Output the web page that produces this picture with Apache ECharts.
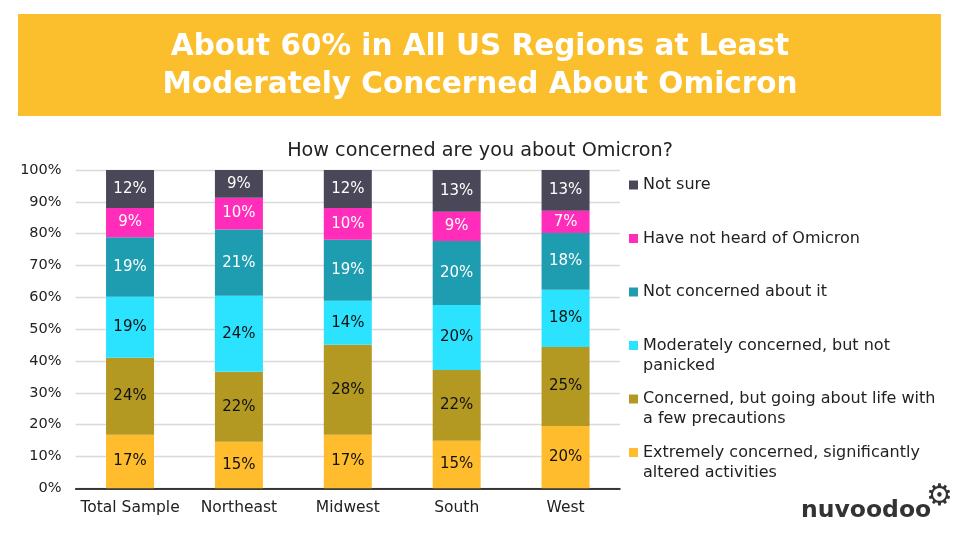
<!DOCTYPE html>
<html>
<head>
<meta charset="utf-8">
<script src="https://cdn.jsdelivr.net/npm/echarts@6/dist/echarts.min.js"></script>
<style>html,body{margin:0;padding:0;background:#fff}#c{width:960px;height:540px}</style>
</head>
<body>
<div id="c"></div>
<script>
const categories = ['Total Sample', 'Northeast', 'Midwest', 'South', 'West'];
const seriesNames = [
  'Extremely concerned, significantly\naltered activities',
  'Concerned, but going about life with\na few precautions',
  'Moderately concerned, but not\npanicked',
  'Not concerned about it',
  'Have not heard of Omicron',
  'Not sure'
];
const extremely = [16.8, 14.6, 16.8, 14.9, 19.6];
const concerned = [24.2, 22.0, 28.3, 22.3, 24.8];
const moderately = [19.2, 23.9, 13.8, 20.4, 18.0];
const notConcerned = [18.7, 20.8, 19.2, 20.1, 17.8];
const notHeard = [9.2, 10.0, 10.0, 9.2, 7.0];
const notSure = [11.9, 8.7, 11.9, 13.1, 12.8];
const yTicks = [0, 10, 20, 30, 40, 50, 60, 70, 80, 90, 100];

const values = [extremely, concerned, moderately, notConcerned, notHeard, notSure];
const colors = ['#FFBD2D', '#B39821', '#2CE3FF', '#1E9DB0', '#FF2DBA', '#4A4858'];
const labelColors = ['#111', '#111', '#111', '#fff', '#fff', '#fff'];
const FONT = 'DejaVu Sans';

const chart = echarts.init(document.getElementById('c'), null, {renderer: 'canvas'});

const series = values.map((v, i) => ({
  name: seriesNames[i],
  type: 'bar',
  stack: 'all',
  data: v,
  barWidth: 48,
  itemStyle: {color: colors[i]},
  label: {
    show: true,
    position: 'inside',
    color: labelColors[i],
    fontFamily: FONT,
    fontSize: 15,
    formatter: p => Math.round(p.value) + '%'
  }
}));

// legend: one component per item, icons equally spaced
const iconCenters = [185, 238.5, 292, 345.5, 399, 452.5];
const legends = [];
for (let k = 0; k < 6; k++) {
  const idx = 5 - k;
  const twoLine = seriesNames[idx].indexOf('\n') >= 0;
  legends.push({
    left: 629,
    top: iconCenters[k] - (twoLine ? 30 : 10),
    padding: 0,
    itemWidth: 9,
    itemHeight: 9,
    itemGap: 0,
    icon: 'rect',
    selectedMode: false,
    data: [seriesNames[idx]],
    formatter: n => (n.indexOf('\n') >= 0 ? ' \n' + n : n),
    textStyle: {
      fontFamily: FONT,
      fontSize: 16,
      color: '#222',
      lineHeight: 20
    }
  });
}

chart.setOption({
  animation: false,
  backgroundColor: '#fff',
  color: colors,
  title: [{
    text: 'About 60% in All US Regions at Least\nModerately Concerned About Omicron',
    left: 'center',
    top: 23,
    textStyle: {color: '#fff', fontFamily: FONT, fontWeight: 'bold', fontSize: 29.5, lineHeight: 38}
  }, {
    text: 'How concerned are you about Omicron?',
    left: 'center',
    top: 137,
    textStyle: {color: '#222', fontFamily: FONT, fontWeight: 'normal', fontSize: 19.2}
  }],
  graphic: [{
    type: 'rect',
    z: -1,
    shape: {x: 18, y: 14, width: 923, height: 102},
    style: {fill: '#FBBF2D'}
  }, {
    type: 'text',
    left: 801, top: 499,
    style: {text: 'nuvoodoo', fontFamily: FONT, fontWeight: 'bold', fontSize: 23.5, fill: '#333'}
  }, {
    type: 'text',
    left: 926, top: 482,
    style: {text: '\u2699', fontFamily: FONT, fontSize: 30, fill: '#333'}
  }],
  legend: legends,
  grid: {left: 75.6, right: 340, top: 170, bottom: 51.7},
  xAxis: {
    type: 'category',
    data: categories,
    axisTick: {show: false},
    axisLine: {lineStyle: {color: '#000', width: 1.5}},
    axisLabel: {color: '#222', fontFamily: FONT, fontSize: 15.5, margin: 12, interval: 0}
  },
  yAxis: {
    type: 'value',
    min: 0,
    max: 100,
    interval: 10,
    axisLabel: {
      color: '#222', fontFamily: FONT, fontSize: 14.5, margin: 14,
      formatter: v => (yTicks.indexOf(v) >= 0 ? v + '%' : '')
    },
    splitLine: {lineStyle: {color: '#d9d9d9', width: 1.3}},
    axisLine: {show: false},
    axisTick: {show: false}
  },
  series: series
});
</script>
</body>
</html>
